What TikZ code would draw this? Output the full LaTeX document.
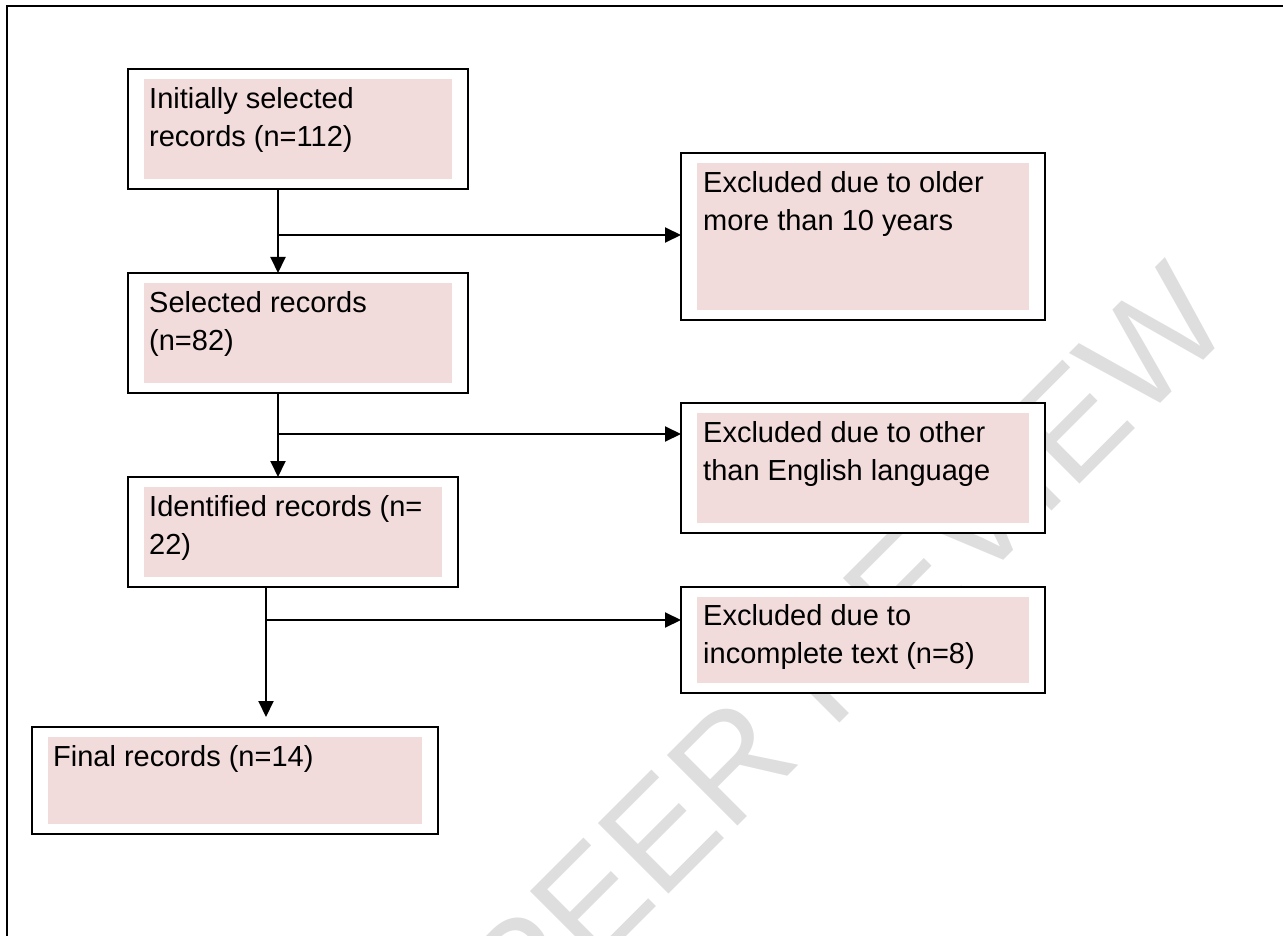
\documentclass[tikz,border=0pt]{standalone}
\usepackage{fontspec}
\setmainfont{Liberation Sans}
\usetikzlibrary{arrows.meta}
\definecolor{recpink}{RGB}{242,219,219}
\definecolor{wmgray}{RGB}{222,222,222}
\tikzset{
  recbox/.style={draw, line width=2pt, fill=white, anchor=north west,
    inner sep=0pt, outer sep=0pt,
    path picture={\fill[recpink]
      ([shift={(16pt,-10pt)}]path picture bounding box.north west) rectangle
      ([shift={(-16pt,10pt)}]path picture bounding box.south east);}},
  rectext/.style={anchor=north west, inner sep=0pt, align=left,
    font=\fontsize{29}{38}\selectfont},
  flow/.style={line width=2pt},
  flowarr/.style={flow, -{Triangle[length=16pt,width=15pt]}},
  wmark/.style={text=wmgray, rotate=45, inner sep=0pt,
    font=\fontsize{145}{145}\selectfont}
}
\begin{document}
\begin{tikzpicture}[x=1pt, y=-1pt]
        \useasboundingbox (0,0) rectangle (1283,936);
        \node[wmark] (wm) at (845,648) {PEER REVIEW};
        \draw[flow] (7,936) -- (7,6) -- (1283,6);
        \node[recbox, minimum width=340pt, minimum height=120pt] (init) at (128,69) {};
        \node[recbox, minimum width=340pt, minimum height=120pt] (sel) at (128,273) {};
        \node[recbox, minimum width=330pt, minimum height=110pt] (ident) at (128,477) {};
        \node[recbox, minimum width=406pt, minimum height=107pt] (final) at (32,727) {};
        \node[recbox, minimum width=364pt, minimum height=167pt] (oldex) at (681,153) {};
        \node[recbox, minimum width=364pt, minimum height=130pt] (langex) at (681,403) {};
        \node[recbox, minimum width=364pt, minimum height=106pt] (incex) at (681,587) {};
        \node[rectext] (init-t) at ([shift={(21pt,-18pt)}]init.north west) {Initially selected\\records (n=112)};
        \node[rectext] (sel-t) at ([shift={(21pt,-18pt)}]sel.north west) {Selected records\\(n=82)};
        \node[rectext] (ident-t) at ([shift={(21pt,-18pt)}]ident.north west) {Identified records (n=\\22)};
        \node[rectext] (final-t) at ([shift={(21pt,-18pt)}]final.north west) {Final records (n=14)};
        \node[rectext] (oldex-t) at ([shift={(22pt,-18pt)}]oldex.north west) {Excluded due to older\\more than 10 years};
        \node[rectext] (langex-t) at ([shift={(22pt,-18pt)}]langex.north west) {Excluded due to other\\than English language};
        \node[rectext] (incex-t) at ([shift={(22pt,-17pt)}]incex.north west) {Excluded due to\\incomplete text (n=8)};
        \coordinate (b1) at (278,235);
        \coordinate (b2) at (278,434);
        \coordinate (b3) at (266,620);
        \draw[flowarr] (init.south -| b1) -- (sel.north -| b1);
        \draw[flowarr] (b1) -- (b1 -| oldex.west);
        \draw[flowarr] (sel.south -| b2) -- (ident.north -| b2);
        \draw[flowarr] (b2) -- (b2 -| langex.west);
        \draw[flowarr, shorten >=10pt] (ident.south -| b3) -- (final.north -| b3);
        \draw[flowarr] (b3) -- (b3 -| incex.west);
      \end{tikzpicture}
\end{document}
